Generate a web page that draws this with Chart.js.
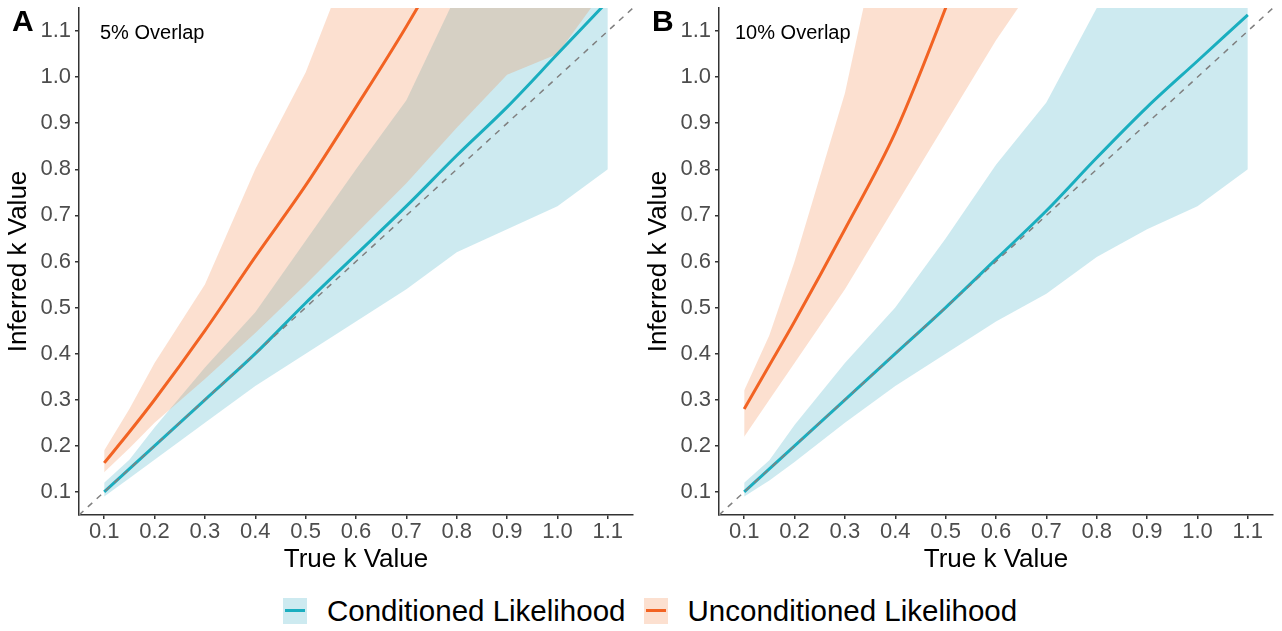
<!DOCTYPE html>
<html>
<head>
<meta charset="utf-8">
<script src="https://cdn.jsdelivr.net/npm/chart.js@4.4.1/dist/chart.umd.min.js"></script>
<style>
    body { margin: 0; background: #fff; width: 1282px; height: 631px; position: relative; overflow: hidden;
           font-family: 'Liberation Sans', Arial, sans-serif; }
    .panel { position: absolute; top: 0; height: 580px; }
    #wrapA { left: 0; width: 640px; }
    #wrapB { left: 640px; width: 642px; }
    .tag { position: absolute; font-weight: bold; font-size: 30px; line-height: 30px; color: #000; }
    .note { position: absolute; font-size: 20px; line-height: 20px; color: #000; white-space: nowrap; }
    .legend { position: absolute; left: 283px; top: 598px; height: 26px; display: flex; align-items: center;
              font-size: 29.5px; color: #000; white-space: nowrap; }
    .key { width: 24px; height: 26px; position: relative; margin-right: 20px; }
    .key span { position: absolute; left: 2px; right: 2px; top: 11px; height: 3px; }
</style>
</head>
<body>
<div class="panel" id="wrapA"><canvas id="chartA" width="640" height="580"></canvas></div>
<div class="panel" id="wrapB"><canvas id="chartB" width="642" height="580"></canvas></div>
<div class="tag" style="left:12px;top:6px;">A</div>
<div class="tag" style="left:652px;top:6px;">B</div>
<div class="note" style="left:100px;top:22px;">5% Overlap</div>
<div class="note" style="left:735px;top:22px;">10% Overlap</div>
<div class="legend">
    <div class="key" style="background:rgba(55,171,195,0.25)"><span style="background:#1aaebf"></span></div>
    <div style="margin-right:18px">Conditioned Likelihood</div>
    <div class="key" style="background:rgba(243,131,67,0.25)"><span style="background:#f26323"></span></div>
    <div>Unconditioned Likelihood</div>
</div>
<script>
// true k values used for every series
const trueK = [0.1, 0.15, 0.2, 0.3, 0.4, 0.5, 0.6, 0.7, 0.8, 0.9, 1.0, 1.1];
const xTicks = [0.1, 0.2, 0.3, 0.4, 0.5, 0.6, 0.7, 0.8, 0.9, 1.0, 1.1];
const yTicks = [0.1, 0.2, 0.3, 0.4, 0.5, 0.6, 0.7, 0.8, 0.9, 1.0, 1.1];
const identityK = [0.05, 1.15];

// panel A - 5% overlap
const condLineA = [0.10, 0.15, 0.20, 0.30, 0.40, 0.51, 0.615, 0.72, 0.83, 0.935, 1.05, 1.165];
const condLowA  = [0.09, 0.13, 0.17, 0.25, 0.33, 0.40, 0.47, 0.54, 0.62, 0.67, 0.72, 0.80];
const condHighA = [0.12, 0.17, 0.24, 0.37, 0.49, 0.645, 0.80, 0.95, 1.18, 1.40, 1.60, 1.80];
const uncLineA  = [0.163, 0.23, 0.30, 0.45, 0.61, 0.765, 0.935, 1.11, 1.30, 1.50, 1.70, 1.90];
const uncLowA   = [0.143, 0.195, 0.25, 0.345, 0.445, 0.55, 0.66, 0.77, 0.89, 1.005, 1.05, 1.20];
const uncHighA  = [0.19, 0.28, 0.38, 0.55, 0.80, 1.01, 1.29, 1.55, 1.80, 2.00, 2.20, 2.40];

// panel B - 10% overlap
const condLineB = [0.10, 0.15, 0.20, 0.30, 0.40, 0.50, 0.605, 0.71, 0.825, 0.935, 1.035, 1.135];
const condLowB  = [0.09, 0.125, 0.165, 0.25, 0.33, 0.40, 0.47, 0.53, 0.61, 0.67, 0.72, 0.80];
const condHighB = [0.12, 0.169, 0.245, 0.38, 0.50, 0.65, 0.81, 0.945, 1.15, 1.40, 1.60, 1.80];
const uncLineB  = [0.28, 0.375, 0.47, 0.67, 0.88, 1.15, 1.45, 1.75, 2.05, 2.35, 2.65, 2.95];
const uncLowB   = [0.22, 0.30, 0.38, 0.54, 0.72, 0.90, 1.08, 1.24, 1.40, 1.56, 1.72, 1.88];
const uncHighB  = [0.32, 0.44, 0.60, 0.965, 1.47, 1.90, 2.30, 2.70, 3.10, 3.50, 3.90, 4.30];

const blueLine = '#1aaebf';
const orangeLine = '#f26323';
const blueFill = 'rgba(55,171,195,0.25)';
const orangeFill = 'rgba(243,131,67,0.25)';

Chart.defaults.font.family = "'Liberation Sans', Arial, sans-serif";

function pts(xs, ys) {
    return xs.map((x, i) => ({ x: x, y: ys[i] }));
}

function ribbon(ys, fill, color) {
    return {
        data: pts(trueK, ys),
        borderWidth: 0,
        pointRadius: 0,
        tension: 0,
        fill: fill,
        backgroundColor: color
    };
}

function curve(ys, color) {
    return {
        data: pts(trueK, ys),
        borderColor: color,
        borderWidth: 3,
        pointRadius: 0,
        cubicInterpolationMode: 'monotone',
        fill: false
    };
}

// keep the plot box where the reference has it
function noPad(scale) {
    scale.paddingTop = 0;
    scale.paddingBottom = 0;
    scale.paddingLeft = 0;
    scale.paddingRight = 0;
}

function makePanel(id, rightPad, s) {
    const ctx = document.getElementById(id).getContext('2d');
    new Chart(ctx, {
        type: 'line',
        data: {
            datasets: [
                {
                    data: pts(identityK, identityK),
                    borderColor: '#808080',
                    borderWidth: 1.5,
                    borderDash: [6, 6],
                    pointRadius: 0,
                    fill: false
                },
                curve(s.uncLine, orangeLine),
                curve(s.condLine, blueLine),
                ribbon(s.uncHigh, '+1', orangeFill),
                ribbon(s.uncLow, false, orangeFill),
                ribbon(s.condHigh, '+1', blueFill),
                ribbon(s.condLow, false, blueFill)
            ]
        },
        options: {
            responsive: false,
            animation: false,
            layout: { padding: { left: 0, right: rightPad, top: 8, bottom: 0 } },
            plugins: { legend: { display: false }, tooltip: { enabled: false } },
            scales: {
                x: {
                    type: 'linear',
                    min: 0.05,
                    max: 1.15,
                    afterBuildTicks: scale => { scale.ticks = xTicks.map(v => ({ value: v })); },
                    afterFit: scale => { scale.height = 65; noPad(scale); },
                    ticks: {
                        callback: v => v.toFixed(1),
                        font: { size: 22 },
                        color: '#4d4d4d',
                        padding: 0,
                        maxRotation: 0,
                        autoSkip: false
                    },
                    grid: { drawOnChartArea: false, tickLength: 4, color: '#333', lineWidth: 1.5 },
                    border: { color: '#333', width: 1.5 },
                    title: {
                        display: true,
                        text: 'True k Value',
                        color: '#000',
                        font: { size: 26 },
                        padding: { top: 0, bottom: 5 }
                    }
                },
                y: {
                    type: 'linear',
                    min: 0.05,
                    max: 1.15,
                    afterBuildTicks: scale => { scale.ticks = yTicks.map(v => ({ value: v })); },
                    afterFit: scale => { scale.width = 79; noPad(scale); },
                    ticks: {
                        callback: v => v.toFixed(1),
                        font: { size: 22 },
                        color: '#4d4d4d',
                        padding: 4,
                        autoSkip: false
                    },
                    grid: { drawOnChartArea: false, tickLength: 4, color: '#333', lineWidth: 1.5 },
                    border: { color: '#333', width: 1.5 },
                    title: {
                        display: true,
                        text: 'Inferred k Value',
                        color: '#000',
                        font: { size: 26 },
                        padding: { top: 3, bottom: 0 }
                    }
                }
            }
        }
    });
}

makePanel('chartA', 7, {
    condLine: condLineA, condLow: condLowA, condHigh: condHighA,
    uncLine: uncLineA, uncLow: uncLowA, uncHigh: uncHighA
});
makePanel('chartB', 9, {
    condLine: condLineB, condLow: condLowB, condHigh: condHighB,
    uncLine: uncLineB, uncLow: uncLowB, uncHigh: uncHighB
});
</script>
</body>
</html>
